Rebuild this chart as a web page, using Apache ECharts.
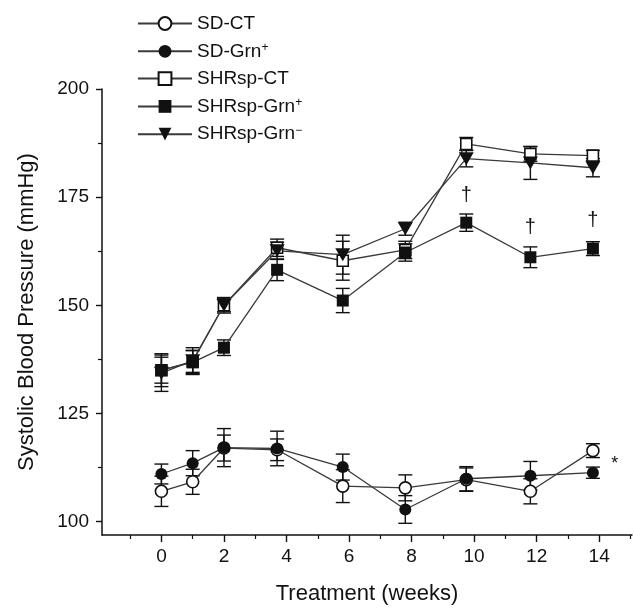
<!DOCTYPE html>
<html>
<head>
<meta charset="utf-8">
<script src="https://cdn.jsdelivr.net/npm/echarts@6/dist/echarts.min.js"></script>
<style>
html, body { margin: 0; padding: 0; background: #fff; }
#chart { width: 634px; height: 610px; }
</style>
</head>
<body>
<div id="chart"></div>
<script>
// weeks where each group was measured (points sit a bit left of the ticks after week 2)
const weeks = [0, 1, 2, 3.7, 5.8, 7.8, 9.75, 11.8, 13.8];

const sdCT = [107, 109.2, 117, 116.6, 108.2, 107.8, 109.7, 107, 116.4];
const sdCTErr = [3.5, 2.9, 3, 2.5, 3.8, 3, 2.7, 2.9, 1.6];
const sdGrnP = [111, 113.5, 117.1, 116.9, 112.6, 102.8, 109.9, 110.6, 111.3];
const sdGrnPErr = [2.3, 2.9, 4.4, 4, 3, 3.2, 2.8, 3.3, 1.3];
const shrCT = [135, 137, 150, 163.3, 160.3, 162.8, 187.3, 185, 184.6];
const shrCTErr = [3.8, 2.5, 1.5, 2, 4.5, 2, 1.5, 1.7, 1.2];
const shrGrnP = [135, 136.8, 140.2, 158.2, 151.1, 162.2, 169.1, 161.1, 163.1];
const shrGrnPErr = [3, 2.8, 1.8, 2.5, 2.8, 2, 2, 2.4, 1.6];
const shrGrnM = [134.3, 137.2, 150, 162.6, 161.7, 167.7, 183.9, 182.9, 181.8];
const shrGrnMErr = [4.2, 3, 1.8, 2, 4.5, 1.5, 1.9, 3.8, 2.1];

// significance marks
const daggerWeeks = [9.75, 11.8, 13.8];
const daggerValues = [175.4, 168, 169.6];
const starWeek = [14.5];
const starValue = [113.3];

const xLabels = [0, 2, 4, 6, 8, 10, 12, 14];
const xMinor = [-1, 1, 3, 5, 7, 9, 11, 13, 15];
const yLabels = [100, 125, 150, 175, 200];
const yMinor = [112.5, 137.5, 162.5, 187.5];

const font = "'Liberation Sans', Arial, sans-serif";
const ink = '#111';
const lineInk = '#3a3a3a';
const triDown = 'path://M0,0 L10,0 L5,9 Z';

const pairs = (vals) => weeks.map((w, i) => [w, vals[i]]);

const groups = [
    { name: 'SD-CT', vals: sdCT, err: sdCTErr, symbol: 'circle', size: 12, open: true },
    { name: 'SD-Grn+', vals: sdGrnP, err: sdGrnPErr, symbol: 'circle', size: 12, open: false },
    { name: 'SHRsp-CT', vals: shrCT, err: shrCTErr, symbol: 'rect', size: 11, open: true },
    { name: 'SHRsp-Grn+', vals: shrGrnP, err: shrGrnPErr, symbol: 'rect', size: 12, open: false },
    { name: 'SHRsp-Grn-', vals: shrGrnM, err: shrGrnMErr, symbol: triDown, size: [15, 13], open: false },
];

const errorSeries = function (g) {
    return {
        type: 'custom',
        silent: true,
        z: 1,
        data: weeks.map((w, i) => [w, g.vals[i], g.err[i]]),
        renderItem: function (params, api) {
            const x = api.value(0), v = api.value(1), e = api.value(2);
            const top = api.coord([x, v + e]);
            const bot = api.coord([x, v - e]);
            const cap = 7;
            const st = { stroke: ink, lineWidth: 1.4 };
            return {
                type: 'group',
                children: [
                    { type: 'line', shape: { x1: top[0], y1: top[1], x2: bot[0], y2: bot[1] }, style: st },
                    { type: 'line', shape: { x1: top[0] - cap, y1: top[1], x2: top[0] + cap, y2: top[1] }, style: st },
                    { type: 'line', shape: { x1: bot[0] - cap, y1: bot[1], x2: bot[0] + cap, y2: bot[1] }, style: st },
                ]
            };
        }
    };
};

const lineSeries = function (g) {
    return {
        type: 'line',
        name: g.name,
        z: 3,
        data: pairs(g.vals),
        symbol: g.symbol,
        symbolSize: g.size,
        showAllSymbol: true,
        lineStyle: { color: lineInk, width: 1.3 },
        itemStyle: {
            color: g.open ? '#fff' : ink,
            borderColor: ink,
            borderWidth: g.open ? 1.6 : 0,
        },
        emphasis: { disabled: true },
    };
};

const textSeries = function (xs, ys, text, size) {
    return {
        type: 'custom',
        silent: true,
        z: 4,
        data: xs.map((x, i) => [x, ys[i]]),
        renderItem: function (params, api) {
            const p = api.coord([api.value(0), api.value(1)]);
            return {
                type: 'text',
                x: p[0],
                y: p[1],
                style: { text: text, fill: ink, font: size + 'px ' + font, align: 'center', verticalAlign: 'middle' }
            };
        }
    };
};

const legendName = function (name) {
    if (name.endsWith('+')) return '{b|' + name.slice(0, -1) + '}{sup|+}';
    if (name.endsWith('-')) return '{b|' + name.slice(0, -1) + '}{sup|\u2212}';
    return '{b|' + name + '}';
};

const axisCommon = {
    axisLine: { show: true, onZero: false, lineStyle: { color: ink, width: 1.5 } },
    splitLine: { show: false },
};

const chart = echarts.init(document.getElementById('chart'), null, { renderer: 'canvas' });
chart.setOption({
    animation: false,
    backgroundColor: '#fff',
    textStyle: { fontFamily: font },
    legend: {
        orient: 'vertical',
        left: 132,
        top: 9,
        itemWidth: 54,
        itemHeight: 16,
        itemGap: 8.3,
        selectedMode: false,
        data: groups.map(g => g.name),
        formatter: legendName,
        textStyle: {
            color: ink,
            rich: {
                b: { fontSize: 19, fontFamily: font, color: ink, lineHeight: 20 },
                sup: { fontSize: 12, fontFamily: font, color: ink, verticalAlign: 'top', lineHeight: 12 },
            }
        },
    },
    grid: { left: 102, right: 2, top: 89, bottom: 72.5, containLabel: false },
    xAxis: [
        Object.assign({}, axisCommon, {
            type: 'value',
            min: -1.9,
            max: 15.05,
            position: 'bottom',
            name: 'Treatment (weeks)',
            nameLocation: 'middle',
            nameGap: 48,
            nameTextStyle: { fontSize: 22, color: ink, fontFamily: font },
            axisTick: { show: true, length: 7, inside: false, customValues: xLabels, lineStyle: { color: ink, width: 1.4 } },
            axisLabel: { show: true, fontSize: 19, color: ink, margin: 12, customValues: xLabels },
        }),
        {
            type: 'value',
            min: -1.9,
            max: 15.05,
            position: 'bottom',
            axisLine: { show: false, onZero: false },
            splitLine: { show: false },
            axisLabel: { show: false },
            axisTick: { show: true, length: 4, customValues: xMinor, lineStyle: { color: ink, width: 1.2 } },
        },
    ],
    yAxis: [
        Object.assign({}, axisCommon, {
            type: 'value',
            min: 96.9,
            max: 200,
            position: 'left',
            name: 'Systolic Blood Pressure (mmHg)',
            nameLocation: 'middle',
            nameGap: 64,
            nameTextStyle: { fontSize: 22, color: ink, fontFamily: font },
            axisTick: { show: true, length: 6, customValues: yLabels, lineStyle: { color: ink, width: 1.4 } },
            axisLabel: { show: true, fontSize: 19, color: ink, margin: 13, customValues: yLabels },
        }),
        {
            type: 'value',
            min: 96.9,
            max: 200,
            position: 'left',
            axisLine: { show: false, onZero: false },
            splitLine: { show: false },
            axisLabel: { show: false },
            axisTick: { show: true, length: 4, customValues: yMinor, lineStyle: { color: ink, width: 1.2 } },
        },
    ],
    series: [
        ...groups.map(errorSeries),
        ...groups.map(lineSeries),
        textSeries(daggerWeeks, daggerValues, '\u2020', 20),
        textSeries(starWeek, starValue, '*', 18),
    ],
});
</script>
</body>
</html>
